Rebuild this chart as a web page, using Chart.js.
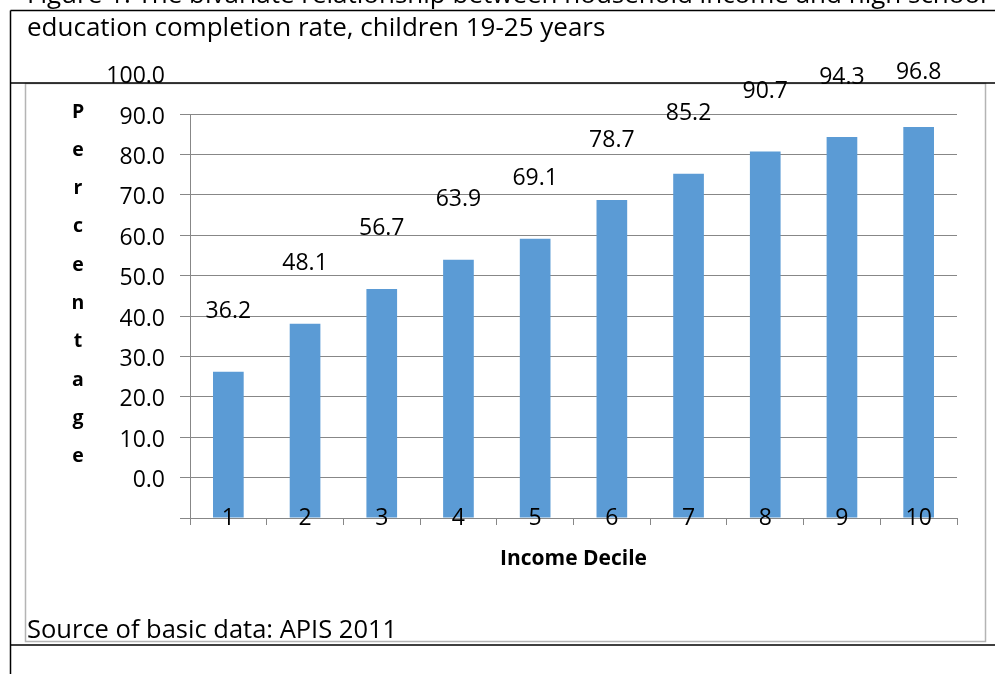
<!DOCTYPE html>
<html>
<head>
<meta charset="utf-8">
<script src="https://cdn.jsdelivr.net/npm/chart.js@4.4.1/dist/chart.umd.min.js"></script>
<style>
  html, body { margin: 0; padding: 0; background: #fff; }
  #wrap { width: 995px; height: 674px; position: relative; }
</style>
</head>
<body>
<div id="wrap"><canvas id="chart"></canvas></div>
<script>
// --- Data ---
const deciles = ['1', '2', '3', '4', '5', '6', '7', '8', '9', '10'];
const completionRate = [36.2, 48.1, 56.7, 63.9, 69.1, 78.7, 85.2, 90.7, 94.3, 96.8];
const yTickLabels = ['0.0', '10.0', '20.0', '30.0', '40.0', '50.0', '60.0', '70.0', '80.0', '90.0', '100.0'];
const titleLines = [
    'Figure 1: The bivariate relationship between household income and high school',
    'education completion rate, children 19-25 years'
];
const yAxisTitle = 'Percentage';
const xAxisTitle = 'Income Decile';
const sourceNote = 'Source of basic data: APIS 2011';

const FONT = '"Open Sans", Lato, sans-serif';
const GRID = '#878787';

// Frame, title and notes drawn behind the chart
const framePlugin = {
    id: 'frame',
    beforeDraw(chart) {
        const ctx = chart.ctx;
        ctx.save();
        ctx.fillStyle = '#fff';
        ctx.fillRect(0, 0, chart.width, chart.height);

        // light chart-area border
        ctx.strokeStyle = '#b4b4b4';
        ctx.lineWidth = 1.5;
        ctx.strokeRect(25.5, 83.5, 960, 558);

        // black document lines
        ctx.strokeStyle = '#000';
        ctx.lineWidth = 1.5;
        ctx.beginPath();
        ctx.moveTo(10.5, 10.5); ctx.lineTo(chart.width, 10.5);
        ctx.moveTo(10.5, 10.5); ctx.lineTo(10.5, chart.height);
        ctx.moveTo(10.5, 83); ctx.lineTo(chart.width, 83);
        ctx.moveTo(10.5, 645); ctx.lineTo(chart.width, 645);
        ctx.stroke();

        ctx.fillStyle = '#000';
        ctx.textAlign = 'left';
        ctx.textBaseline = 'alphabetic';
        ctx.font = '26px ' + FONT;
        ctx.fillText(titleLines[0], 27, 3);
        ctx.fillText(titleLines[1], 27, 36);

        ctx.font = '25.5px ' + FONT;
        ctx.fillText(sourceNote, 27, 638);

        // vertical stacked axis title
        ctx.font = 'bold 19.5px ' + FONT;
        ctx.textAlign = 'center';
        ctx.textBaseline = 'middle';
        yAxisTitle.split('').forEach((ch, i) => {
            ctx.fillText(ch, 78, 112 + i * 38.3);
        });

        ctx.font = 'bold 21px ' + FONT;
        const area = chart.chartArea;
        ctx.fillText(xAxisTitle, (area.left + area.right) / 2, 559);
        ctx.restore();
    }
};

// Tick labels and value labels as they sit in the original
const labelPlugin = {
    id: 'labels',
    afterDraw(chart) {
        const ctx = chart.ctx;
        const y = chart.scales.y;
        const x = chart.scales.x;
        ctx.save();
        ctx.fillStyle = '#000';
        ctx.font = '23px ' + FONT;

        // y tick labels (shifted one step up, as in the source figure)
        ctx.textAlign = 'right';
        ctx.textBaseline = 'middle';
        yTickLabels.forEach((lab, i) => {
            ctx.fillText(lab, 165, y.getPixelForValue((i + 1) * 10) + 3);
        });

        // category labels on the axis line
        ctx.textAlign = 'center';
        deciles.forEach((lab, i) => {
            ctx.fillText(lab, x.getPixelForValue(i), y.getPixelForValue(0));
        });

        // value labels above the bars
        completionRate.forEach((v, i) => {
            const py = Math.max(y.getPixelForValue(v) - 60, 72);
            ctx.fillText(v.toFixed(1), x.getPixelForValue(i), py);
        });
        ctx.restore();
    }
};

new Chart(document.getElementById('chart').getContext('2d'), {
    type: 'bar',
    data: {
        labels: deciles,
        datasets: [{
            data: completionRate,
            backgroundColor: '#5b9bd5',
            borderWidth: 0,
            barPercentage: 0.4,
            categoryPercentage: 1.0
        }]
    },
    options: {
        responsive: true,
        maintainAspectRatio: false,
        animation: false,
        devicePixelRatio: 1,
        layout: { padding: { left: 180, top: 114, right: 38, bottom: 149 } },
        plugins: { legend: { display: false }, tooltip: { enabled: false } },
        scales: {
            x: {
                z: 1,
                ticks: { display: false },
                grid: { drawOnChartArea: false, offset: true, tickLength: 7, color: GRID, lineWidth: 1 },
                border: { display: true, color: GRID, width: 1 }
            },
            y: {
                min: 0,
                max: 100,
                ticks: { display: false, stepSize: 10 },
                grid: { tickLength: 10, color: GRID, lineWidth: 1 },
                border: { display: true, color: GRID, width: 1 }
            }
        }
    },
    plugins: [framePlugin, labelPlugin]
});
</script>
</body>
</html>
